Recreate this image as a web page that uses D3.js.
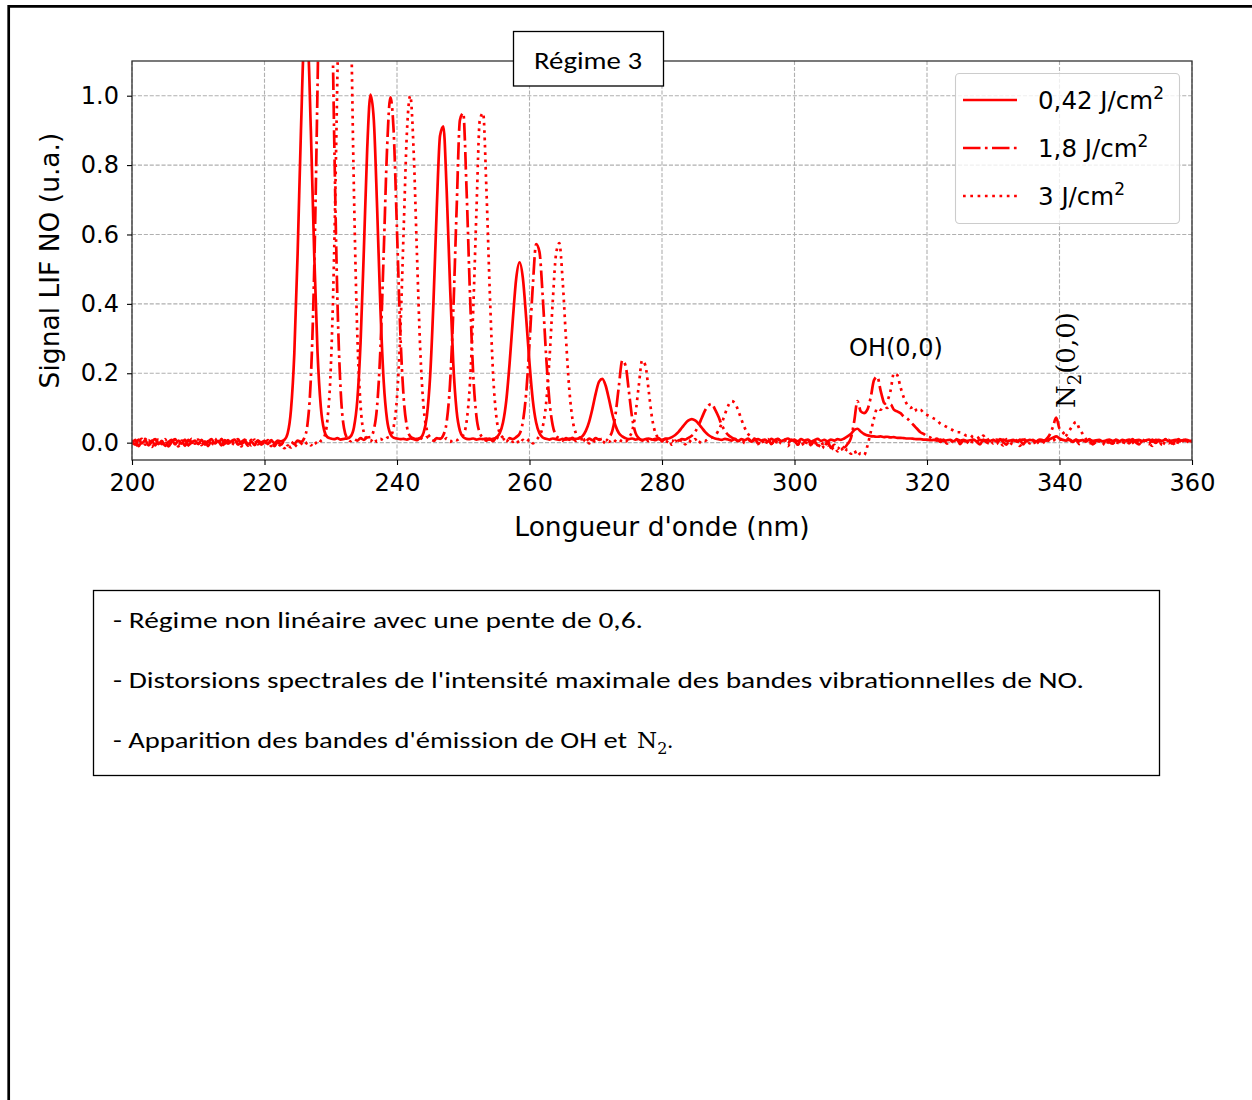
<!DOCTYPE html>
<html><head><meta charset="utf-8">
<script src="https://cdn.jsdelivr.net/npm/d3@7"></script>
<style>body{margin:0;background:#fff}</style>
</head><body>
<svg id="chart" width="1252" height="1100" xmlns="http://www.w3.org/2000/svg"></svg>
<script>
// ---- Data ----
const wavelengthStart = 200;   // nm
const wavelengthStep = 0.5;    // nm sampling of the spectra below
const xTicks = [200, 220, 240, 260, 280, 300, 320, 340, 360];
const yTicks = [0.0, 0.2, 0.4, 0.6, 0.8, 1.0];
const yTickLabels = ["0.0", "0.2", "0.4", "0.6", "0.8", "1.0"];
const legendValues = ["0,42", "1,8", "3"];
const legendUnit = " J/cm";
const legendUnitExp = "2";

// 0,42 J/cm2 (solid)
const signal042 = [
 .004,-.006,.009,-.002,.007,-.008,.003,.010,-.004,.005,-.009,.002,.008,-.005,.006,-.003,.009,-.007,.001,.006,
 -.004,.008,-.006,.003,.010,-.002,.005,-.008,.007,-.003,.004,.009,-.006,.002,.008,-.005,.003,-.007,.006,.001,
 .005,-.004,.007,-.002,.006,.004,.008,.027,.095,.257,.545,.898,1.153,1.153,.898,.545,.262,.103,.036,.016,
 .012,.010,.013,.009,.011,.012,.018,.044,.120,.288,.556,.845,1.003,.930,.677,.385,.174,.066,.025,.014,
 .012,.010,.011,.009,.012,.010,.011,.013,.028,.075,.191,.403,.674,.885,.912,.726,.456,.226,.091,.034,
 .016,.011,.010,.012,.009,.011,.010,.012,.009,.011,.015,.027,.058,.122,.229,.359,.474,.520,.474,.359,
 .229,.122,.058,.027,.015,.011,.009,.012,.010,.008,.011,.009,.012,.010,.011,.013,.019,.034,.060,.098,
 .142,.176,.184,.164,.125,.082,.048,.027,.018,.013,.010,.012,.009,.011,.008,.010,.012,.009,.011,.010,
 .008,.011,.012,.016,.022,.031,.043,.055,.064,.068,.064,.055,.043,.031,.022,.016,.012,.010,.008,.011,
 .009,.006,.011,.005,.010,.007,.012,.004,.008,.010,.006,.009,.003,.011,.007,.010,.005,.008,.012,.006,
 .008,.004,.010,.006,.009,.003,.007,.011,.005,.008,.004,.009,.006,.010,.008,.012,.018,.025,.036,.040,
 .032,.025,.021,.019,.018,.017,.018,.016,.017,.015,.016,.014,.014,.013,.012,.012,.011,.010,.010,.009,
 .009,.007,.008,.006,.009,.005,.007,.008,.004,.009,.006,.008,.005,.007,.009,.004,.008,.006,.007,.005,
 .008,.004,.007,.009,.005,.006,.008,.003,.007,.009,.005,.008,.006,.004,.009,.007,.006,.010,.014,.018,
 .012,.008,.006,.009,.004,.008,.006,.007,.003,.009,.005,.007,.008,.004,.006,.009,.005,.007,.004,.008,
 .006,.009,.004,.007,.008,.005,.006,.009,.003,.007,.008,.005,.009,.004,.006,.008,.005,.007,.009,.006,
 .005
];

// 1,8 J/cm2 (dash-dot)
const signal18 = [
 -.005,.008,-.010,.004,.011,-.003,.006,-.008,.009,-.002,.007,-.011,.003,.010,-.006,.005,-.009,.008,-.001,.006,
 .009,-.007,.004,-.010,.006,.002,-.005,.011,-.003,.007,-.008,.005,.010,-.004,.003,-.009,.008,-.002,.006,-.006,
 .004,-.007,.006,-.010,.002,-.006,.005,-.008,.003,-.004,.006,.002,.013,.055,.187,.496,1.02,1.64,2.06,2.01,
 1.52,.903,.416,.149,.042,.012,.004,.011,.006,.013,.008,.015,.016,.037,.106,.272,.551,.847,.995,.896,
 .611,.318,.131,.046,.018,.012,.007,.014,.009,.016,.010,.006,.013,.011,.022,.060,.168,.380,.673,.930,
 .950,.728,.437,.199,.074,.028,.014,.006,.012,.004,.015,.009,.011,.005,.013,.010,.016,.025,.060,.143,
 .285,.452,.572,.550,.420,.253,.122,.050,.021,.012,.006,.013,.008,.014,.005,.011,.009,.004,.012,.007,
 .013,.008,.011,.006,.015,.034,.084,.165,.237,.222,.148,.071,.028,.013,.006,.012,.004,.010,.007,.013,
 .005,.011,.008,.003,.012,.006,.010,.009,.014,.020,.031,.049,.071,.093,.107,.112,.096,.076,.052,.034,
 .022,.015,.010,.004,.011,-.002,.008,.003,.012,-.003,.009,.002,.010,-.004,.007,.011,.001,.008,-.002,.009,
 .004,-.005,.008,.001,.010,-.006,.005,-.008,.002,-.012,.004,-.015,-.006,-.018,-.008,-.014,-.004,.012,.060,.120,
 .090,.085,.095,.130,.180,.190,.150,.115,.100,.110,.095,.090,.085,.075,.070,.060,.050,.040,.030,.025,
 .018,.015,.008,.012,.002,.009,-.003,.007,.001,.010,-.004,.006,.003,-.006,.008,.002,-.005,.009,.001,-.003,
 .007,-.004,.010,.002,-.006,.008,.003,-.002,.009,-.005,.006,.001,.008,-.003,.005,.004,.010,.022,.045,.072,
 .040,.030,.018,.008,.002,.009,-.004,.007,.001,.010,-.005,.006,.003,-.007,.008,.002,-.003,.009,.004,-.006,
 .007,-.002,.010,.001,-.005,.008,.003,-.004,.009,-.001,.006,-.007,.004,.008,-.003,.005,.010,-.002,.006,.001,
 .004
];

// 3 J/cm2 (dotted)
const signal3 = [
 .008,-.009,.003,.011,-.006,.007,-.012,.005,.009,-.004,.010,-.007,.002,.008,-.011,.006,.004,-.008,.011,-.003,
 .006,-.010,.009,.001,-.007,.012,-.004,.007,-.009,.004,.010,-.006,.003,-.011,.008,.002,-.008,.009,-.005,.005,
 -.006,.007,-.010,.002,-.013,-.004,-.016,-.008,-.014,-.005,-.012,-.003,-.010,.002,-.008,.004,-.006,.005,.016,.066,
 .212,.537,1.054,1.61,1.92,1.78,1.29,.724,.317,.108,.029,.010,.004,.013,.002,.011,.006,.014,.018,.046,
 .131,.318,.611,.896,1.0,.847,.551,.272,.106,.037,.016,.010,.003,.012,.005,.013,.002,.010,.007,.014,
 .022,.060,.168,.380,.673,.930,.950,.728,.437,.199,.074,.028,.014,.004,.011,.002,.009,-.003,.008,.001,
 .010,-.002,.007,.020,.046,.112,.237,.404,.542,.575,.468,.302,.155,.066,.027,.014,.003,.011,-.002,.008,
 .001,.010,-.003,.007,.002,.011,.004,-.001,.009,.003,.015,.034,.084,.165,.237,.222,.148,.071,.028,.013,
 .004,-.004,.008,-.006,.006,-.002,.009,-.005,.007,.001,.010,-.003,.008,.005,.011,.014,.020,.034,.055,.082,
 .107,.120,.114,.093,.066,.042,.025,.016,.008,-.004,.009,-.007,.006,.002,-.008,.010,-.003,.007,-.010,.004,
 .008,-.006,.003,-.011,.006,-.008,.002,-.013,-.002,-.016,-.006,-.020,-.012,-.025,-.015,-.028,-.018,-.032,-.022,-.038,
 -.030,-.036,-.010,.030,.070,.100,.095,.110,.120,.150,.200,.195,.160,.130,.110,.100,.105,.090,.095,.085,
 .080,.075,.070,.065,.055,.050,.045,.040,.035,.030,.030,.025,.020,.022,.015,.018,.010,.020,.006,.012,
 -.003,.009,.002,-.008,.010,.001,-.005,.007,-.009,.004,.011,-.002,.006,-.007,.009,.003,-.004,.010,.005,.012,
 .008,.012,.020,.035,.050,.060,.040,.025,.010,-.003,.008,-.006,.004,.010,-.008,.006,.001,-.009,.007,.003,
 -.005,.009,.002,-.007,.011,-.003,.006,.001,-.009,.008,.004,-.006,.010,-.002,.007,-.010,.005,.009,-.004,.006,
 -.002
];

const seriesData = [signal042, signal18, signal3];
const lineDash = [null, "17.5,4.4,2.7,4.4", "2.7,4.6"];
const lineColor = "#ff0000";

// ---- Layout ----
const svg = d3.select("#chart");
const W = 1252, H = 1100;
const plot = {left: 132, right: 1192, top: 61, bottom: 460};
const x = d3.scaleLinear().domain([200, 360]).range([plot.left, plot.right]);
const y = d3.scaleLinear().domain([-0.05, 1.1]).range([plot.bottom, plot.top]);
const SANS = "'DejaVu Sans', sans-serif";
const CAL = "Carlito, Calibri, Lato, 'Open Sans', sans-serif";

svg.append("rect").attr("width", W).attr("height", H).attr("fill", "#fff");

// outer page frame
svg.append("path").attr("d", `M8.7,${H} V6.3 H${W}`)
  .attr("fill", "none").attr("stroke", "#000").attr("stroke-width", 2.7);

// grid
const grid = svg.append("g");
grid.selectAll("line.gx").data(xTicks).join("line")
  .attr("x1", d => x(d)).attr("x2", d => x(d)).attr("y1", plot.top).attr("y2", plot.bottom)
  .attr("stroke", "#b0b0b0").attr("stroke-width", 1.1).attr("stroke-dasharray", "4.1,1.8");
grid.selectAll("line.gy").data(yTicks).join("line")
  .attr("x1", plot.left).attr("x2", plot.right).attr("y1", d => y(d)).attr("y2", d => y(d))
  .attr("stroke", "#b0b0b0").attr("stroke-width", 1.1).attr("stroke-dasharray", "4.1,1.8");

// clip
svg.append("defs").append("clipPath").attr("id", "clip")
  .append("rect").attr("x", plot.left).attr("y", plot.top)
  .attr("width", plot.right - plot.left).attr("height", plot.bottom - plot.top);

// lines
const line = d3.line()
  .x((d, i) => x(wavelengthStart + i * wavelengthStep))
  .y(d => y(d))
  .curve(d3.curveMonotoneX);
const lines = svg.append("g").attr("clip-path", "url(#clip)");
seriesData.forEach((s, k) => {
  lines.append("path").datum(s).attr("d", line)
    .attr("fill", "none").attr("stroke", lineColor).attr("stroke-width", 2.7)
    .attr("stroke-linejoin", "round")
    .attr("stroke-dasharray", lineDash[k]);
});

// spines
svg.append("rect").attr("x", plot.left).attr("y", plot.top)
  .attr("width", plot.right - plot.left).attr("height", plot.bottom - plot.top)
  .attr("fill", "none").attr("stroke", "#333").attr("stroke-width", 1.3);

// axes
const xAxis = svg.append("g").attr("transform", `translate(0,${plot.bottom})`)
  .call(d3.axisBottom(x).tickValues(xTicks).tickFormat(d3.format("d")).tickSize(5).tickPadding(9));
const yAxis = svg.append("g").attr("transform", `translate(${plot.left},0)`)
  .call(d3.axisLeft(y).tickValues(yTicks).tickFormat((d, i) => yTickLabels[i]).tickSize(5).tickPadding(8));
[xAxis, yAxis].forEach(a => {
  a.select(".domain").remove();
  a.selectAll(".tick line").attr("stroke", "#000").attr("stroke-width", 1.1);
  a.selectAll(".tick text").attr("font-family", SANS).attr("font-size", 24).attr("fill", "#000");
});

// axis labels
svg.append("text").attr("x", (plot.left + plot.right) / 2).attr("y", 536)
  .attr("text-anchor", "middle").attr("font-family", SANS).attr("font-size", 26.5)
  .text("Longueur d'onde (nm)");
svg.append("text").attr("transform", `translate(59,${(plot.top + plot.bottom) / 2}) rotate(-90)`)
  .attr("text-anchor", "middle").attr("font-family", SANS).attr("font-size", 26.5)
  .text("Signal LIF NO (u.a.)");

// annotations
svg.append("text").attr("x", 849).attr("y", 356).attr("font-family", SANS).attr("font-size", 24)
  .text("OH(0,0)");
const n2 = svg.append("text").attr("transform", "translate(1075,408) rotate(-90)")
  .attr("font-family", "'DejaVu Serif', serif").attr("font-size", 26);
n2.append("tspan").text("N");
n2.append("tspan").attr("font-size", 18).attr("dy", 6).text("2");
n2.append("tspan").attr("dy", -6).text("(0,0)");

// legend
const lg = svg.append("g");
lg.append("rect").attr("x", 955.5).attr("y", 73.5).attr("width", 224).attr("height", 150).attr("rx", 4)
  .attr("fill", "#fff").attr("fill-opacity", 0.8).attr("stroke", "#cccccc").attr("stroke-width", 1.1);
legendValues.forEach((v, k) => {
  const cy = 100 + k * 48;
  lg.append("line").attr("x1", 963).attr("x2", 1017).attr("y1", cy).attr("y2", cy)
    .attr("stroke", lineColor).attr("stroke-width", 2.7).attr("stroke-dasharray", lineDash[k]);
  const t = lg.append("text").attr("x", 1038).attr("y", cy + 9).attr("font-family", SANS).attr("font-size", 24.5);
  t.append("tspan").text(v + legendUnit);
  t.append("tspan").attr("font-size", 17).attr("dy", -10).text(legendUnitExp);
});

// title box
svg.append("rect").attr("x", 513.5).attr("y", 31.5).attr("width", 150).attr("height", 54.5)
  .attr("fill", "#fff").attr("stroke", "#000").attr("stroke-width", 1.3);
svg.append("text").attr("x", 534).attr("y", 68.5).attr("font-family", CAL).attr("font-size", 24)
  .attr("textLength", 108).attr("lengthAdjust", "spacingAndGlyphs").text("Régime 3");

// text box
svg.append("rect").attr("x", 93.5).attr("y", 590.5).attr("width", 1066).attr("height", 185)
  .attr("fill", "none").attr("stroke", "#000").attr("stroke-width", 1.3);
const bodyLines = [
  {t: "- Régime non linéaire avec une pente de 0,6.", y: 628, len: 530},
  {t: "- Distorsions spectrales de l'intensité maximale des bandes vibrationnelles de NO.", y: 688, len: 971},
  {t: "- Apparition des bandes d'émission de OH et", y: 748, len: 514}
];
bodyLines.forEach(b => {
  svg.append("text").attr("x", 113).attr("y", b.y).attr("font-family", CAL).attr("font-size", 23)
    .attr("textLength", b.len).attr("lengthAdjust", "spacingAndGlyphs").text(b.t);
});
const nt = svg.append("text").attr("x", 637).attr("y", 748).attr("font-family", "'DejaVu Serif', serif").attr("font-size", 23);
nt.append("tspan").text("N");
nt.append("tspan").attr("font-size", 16).attr("dy", 6).text("2");
nt.append("tspan").attr("dy", -6).attr("font-family", CAL).text(".");
</script>
</body></html>
